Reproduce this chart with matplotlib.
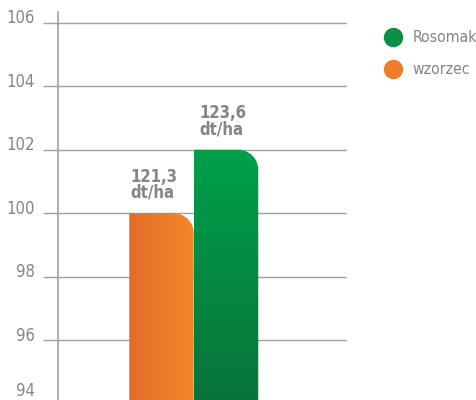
import matplotlib.pyplot as plt
import matplotlib.transforms as mtransforms
from matplotlib.path import Path
from matplotlib.patches import PathPatch
from matplotlib.lines import Line2D
import numpy as np

plt.rcParams['font.family'] = ['DejaVu Sans']
plt.rcParams['font.stretch'] = 'condensed'

categories = ['wzorzec', 'Rosomak']
values = [100, 102]
yield_labels = ['121,3\ndt/ha', '123,6\ndt/ha']
yticks = [94, 96, 98, 100, 102, 104, 106]

grey = '#858585'
line_grey = '#a0a0a0'

fig = plt.figure(figsize=(4.77, 4.0), dpi=100)
ax = fig.add_axes([58 / 477, 0, (347 - 58) / 477, 388 / 400])

xlim = (-1.605, 2.876)
ylim = (94.117, 106.34)
width = 1.0

# px per data unit, for the rounded corner
px_x = 289 / (xlim[1] - xlim[0])
px_y = 388 / (ylim[1] - ylim[0])
r_px = 20
rx, ry = r_px / px_x, r_px / px_y


def rounded_bar(x0, x1, y0, y1):
    k = 0.5523
    verts = [(x0, y0), (x0, y1), (x1 - rx, y1),
             (x1 - rx + k * rx, y1), (x1, y1 - ry + k * ry), (x1, y1 - ry),
             (x1, y0), (x0, y0)]
    codes = [Path.MOVETO, Path.LINETO, Path.LINETO,
             Path.CURVE4, Path.CURVE4, Path.CURVE4,
             Path.LINETO, Path.CLOSEPOLY]
    return Path(verts, codes)


gradients = [
    ('h', np.array([228, 107, 42]) / 255, np.array([242, 137, 40]) / 255),
    ('v', np.array([0, 160, 75]) / 255, np.array([10, 110, 56]) / 255),
]
label_shift_px = [1, 6]

for i, (cat, val) in enumerate(zip(categories, values)):
    x0, x1 = i - width / 2, i + width / 2
    y0 = ylim[0] - 1
    patch = PathPatch(rounded_bar(x0, x1, y0, val), facecolor='none', edgecolor='none')
    ax.add_patch(patch)
    kind, c0, c1 = gradients[i]
    t = np.linspace(0, 1, 256)
    grad = c0[None, :] * (1 - t[:, None]) + c1[None, :] * t[:, None]
    img = grad[None, :, :] if kind == 'h' else grad[:, None, :]
    im = ax.imshow(img, extent=(x0, x1, y0, val), aspect='auto', zorder=3,
                   interpolation='bilinear', origin='upper')
    im.set_clip_path(patch)
    ax.text(x0 + label_shift_px[i] / px_x, val + 0.36, yield_labels[i],
            ha='left', va='bottom', fontsize=12, fontweight='bold',
            color=grey, linespacing=0.85)

for y in yticks:
    ax.axhline(y, color=line_grey, lw=1.0, zorder=1)

ax.set_yticks(yticks)
ax.set_yticklabels([])
ax.set_xticks([])
ax.set_xlim(*xlim)
ax.set_ylim(*ylim)
ax.tick_params(axis='y', length=10.6, width=1.0, color=line_grey, direction='out')

# tick labels sit a little above their gridlines; the bottom one is lifted into view
ytrans = mtransforms.blended_transform_factory(ax.transAxes, ax.transData)
for v in yticks:
    dy = 13 if v == yticks[0] else 4.4
    off = mtransforms.ScaledTranslation(-23 / 100, dy / 100, fig.dpi_scale_trans)
    ax.text(0, v, str(v), transform=ytrans + off, ha='right', va='center',
            fontsize=12, color=grey, clip_on=False)

for s in ['top', 'right', 'bottom']:
    ax.spines[s].set_visible(False)
ax.spines['left'].set_color(line_grey)
ax.spines['left'].set_linewidth(1.2)
ax.spines['left'].set_zorder(4)

legend_colors = {'Rosomak': '#0a8f45', 'wzorzec': '#f07d2a'}
handles = [Line2D([], [], marker='o', ls='', markersize=14, markeredgewidth=0,
                  color=legend_colors[c], label=c) for c in categories[::-1]]
leg = fig.legend(handles=handles, loc='upper left', bbox_to_anchor=(385.5 / 477, 1 - 30 / 400),
                 frameon=False, fontsize=11.3, handlelength=1.0, handletextpad=0.72,
                 labelspacing=1.1, borderpad=0, borderaxespad=0)
for txt in leg.get_texts():
    txt.set_color(grey)

fig.savefig('out.png', dpi=100)
